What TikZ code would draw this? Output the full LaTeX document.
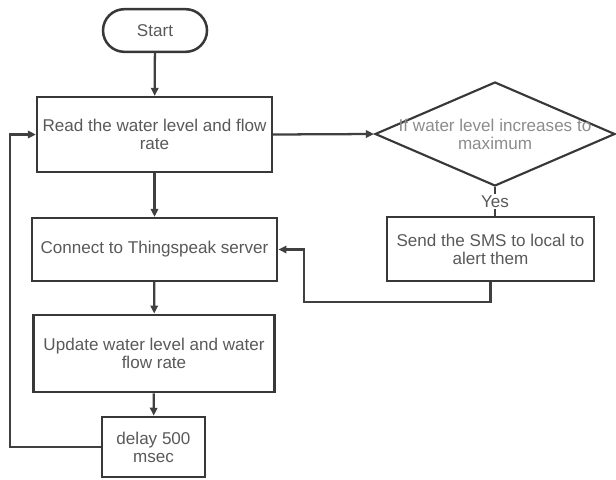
\documentclass[tikz,border=0pt]{standalone}
\usepackage{fontspec}
\setmainfont{Liberation Sans}
\usetikzlibrary{arrows.meta,shapes.geometric,shapes.misc}
\begin{document}
\begin{tikzpicture}
		[x=0.75pt,y=-0.75pt,
		line width=1.9pt,
		every node/.style={font=\fontsize{12.8}{13.5}\selectfont,text=black!65,align=center},
		procbox/.style={rectangle,draw=black!78,line width=1.9pt,inner sep=0pt},
		termbox/.style={rounded rectangle,draw=black!78,line width=1.9pt,minimum width=78pt,minimum height=32pt,inner sep=0pt},
		decbox/.style={diamond,draw=black!78,line width=1.6pt,minimum width=180pt,minimum height=78pt,inner sep=0pt},
		dectext/.style={text=black!45},
		flow/.style={draw=black!75,line width=1.7pt,-{Triangle[length=6pt,width=5.5pt]}},
		link/.style={draw=black!75,line width=1.7pt}]
		\useasboundingbox (0,0) rectangle (616,479);
		% main column
		\node[termbox,name=start] at (155,30.5) {Start};
		\node[procbox,name=read,minimum width=176pt,minimum height=56pt] at (154.5,134.5)
		{Read the water level and flow\\rate};
		\node[procbox,name=connect,minimum width=184pt,minimum height=47pt] at (154.5,249.5)
		{Connect to Thingspeak server};
		\node[procbox,name=update,minimum width=181pt,minimum height=58pt] at (154,353.5)
		{Update water level and water\\flow rate};
		\node[procbox,name=delay,minimum width=77pt,minimum height=45pt] at (153.5,447)
		{delay 500\\msec};
		% alert branch
		\node[decbox,name=check,label={[dectext]center:If water level increases to\\maximum}] at (495,134) {};
		\node[procbox,name=sms,minimum width=155pt,minimum height=48pt] at (490.5,249)
		{Send the SMS to local to\\alert them};
		\coordinate (bend) at (304,302);
		\coordinate (loopfoot) at (10,447);
		\foreach \a/\b in {start/read,read/connect,connect/update,update/delay}
		{
			\draw[flow] (\a) -- (\b);
		}
		\draw[flow] (read.east) -- (check.west);
		\draw[link] (check.south) -- (check.south |- sms.north)
			node[midway,fill=white,inner sep=1pt,name=yes] {Yes};
		\draw[flow] (sms.south) |- (bend) |- (connect.east);
		\draw[flow] (delay.west) -- (loopfoot) |- (read.west);
	\end{tikzpicture}
\end{document}
